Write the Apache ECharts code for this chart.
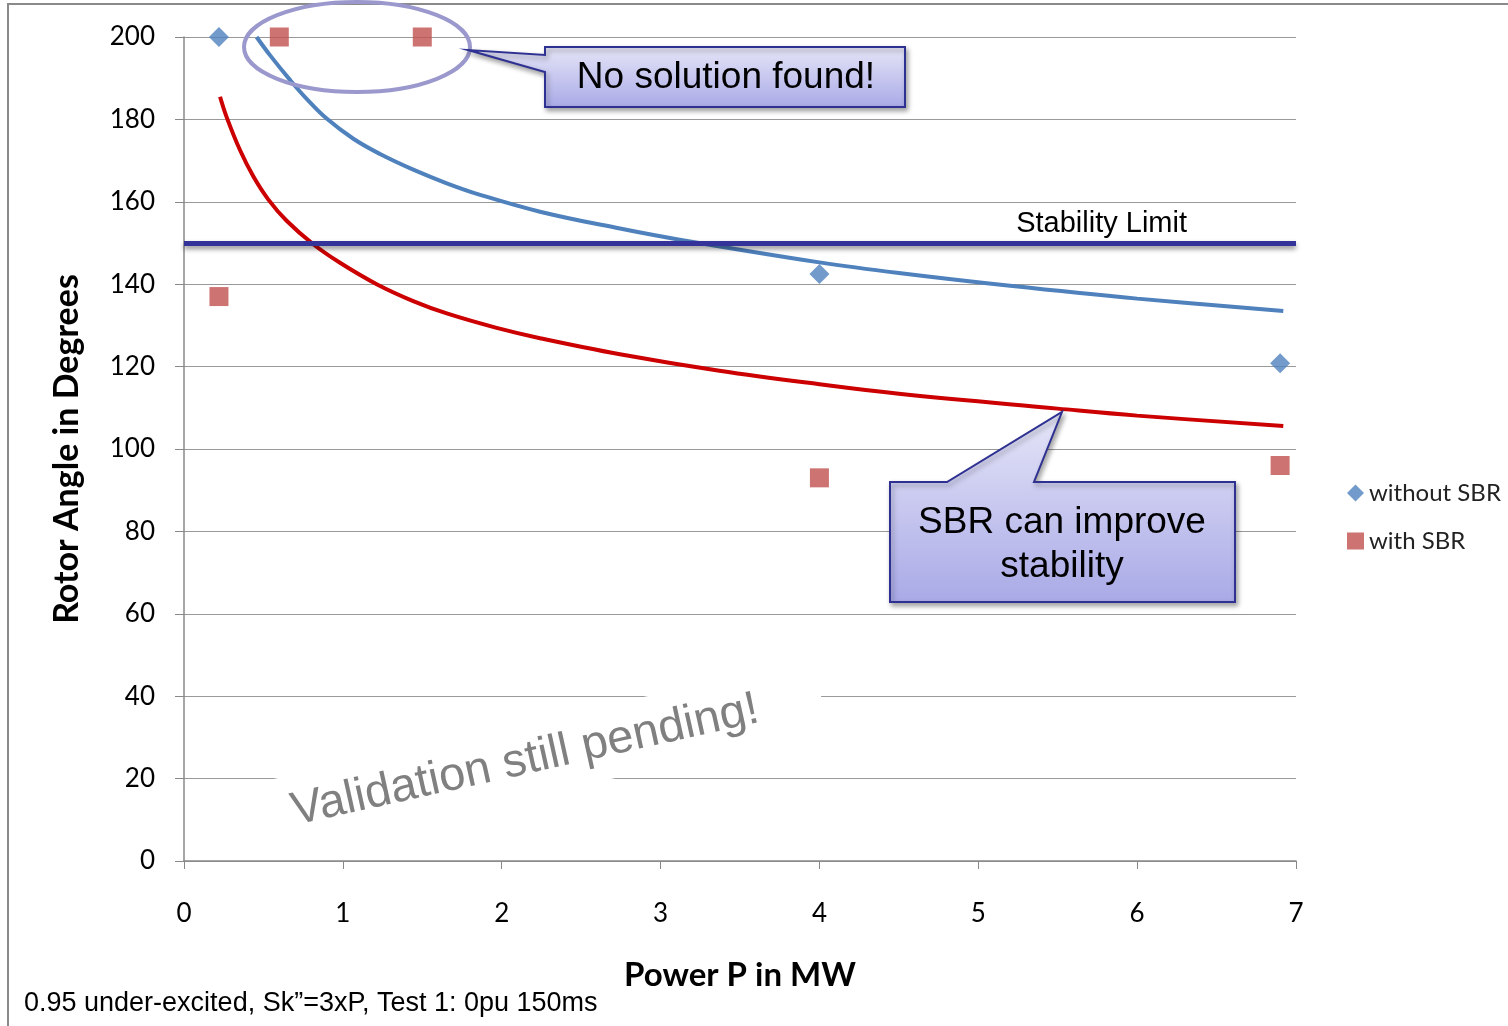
<!DOCTYPE html>
<html>
<head>
<meta charset="utf-8">
<title>Rotor Angle vs Power</title>
<script src="https://cdn.jsdelivr.net/npm/echarts@6/dist/echarts.min.js"></script>
<style>
  html, body { margin: 0; padding: 0; background: #fff; }
  #chart { width: 1508px; height: 1026px; }
</style>
</head>
<body>
<div id="chart"></div>
<script>
// simulated points [P in MW, rotor angle in degrees]
const withoutSBR = [[0.22, 200], [4.0, 142.5], [6.9, 120.8]];
const withSBR = [[0.22, 137], [0.6, 200], [1.5, 200], [4.0, 93], [6.9, 96]];

// trend lines
const withoutSBRTrend = [
  [0.457, 200], [0.541, 195.6], [0.667, 189.6], [0.772, 185.0], [0.898, 180.2],
  [1.066, 175.3], [1.234, 171.6], [1.443, 167.8], [1.654, 164.5], [1.864, 161.7],
  [2.241, 157.6], [2.744, 153.5], [3.12, 150.8], [4.0, 145.3], [4.5, 142.7],
  [5.2, 139.6], [6.0, 136.5], [6.92, 133.5]
];
const withSBRTrend = [
  [0.227, 185.5], [0.269, 180.5], [0.353, 172.5], [0.436, 166.2], [0.53, 160.6],
  [0.646, 155.4], [0.814, 149.7], [0.982, 145.2], [1.213, 140.0], [1.443, 135.9],
  [1.654, 132.9], [1.968, 129.4], [2.241, 126.9], [2.744, 123.0], [3.37, 119.0],
  [4.0, 115.7], [4.5, 113.4], [5.5, 109.8], [6.0, 108.1], [6.92, 105.6]
];

const stabilityLimit = 150;
const seriesNames = ["without SBR", "with SBR"];

const chart = echarts.init(document.getElementById("chart"));

function calloutGradient() {
  return new echarts.graphic.LinearGradient(0, 0, 0, 1, [
    { offset: 0, color: "#e6e6f8" },
    { offset: 1, color: "#a9a9e7" },
  ]);
}

const calloutStyle = {
  stroke: "#2e3192",
  lineWidth: 2,
  shadowColor: "rgba(0,0,0,0.35)",
  shadowBlur: 5,
  shadowOffsetX: 2,
  shadowOffsetY: 3,
};

chart.setOption({
  animation: false,
  backgroundColor: "#fff",
  grid: { left: 184, right: 212, top: 37, bottom: 165 },
  legend: {
    orient: "vertical",
    left: 1342,
    top: 476,
    itemGap: 24,
    itemWidth: 17,
    itemHeight: 17,
    data: seriesNames,
    textStyle: { fontFamily: "Lato", fontSize: 24, color: "#222" },
  },
  xAxis: {
    type: "value",
    min: 0,
    max: 7,
    interval: 1,
    z: 8,
    name: "Power P in MW",
    nameLocation: "middle",
    nameGap: 98,
    nameTextStyle: { fontFamily: "Lato", fontWeight: "bold", fontSize: 33, color: "#000" },
    axisLine: { show: true, lineStyle: { color: "#888", width: 1.5 } },
    axisTick: { show: true, length: 8, lineStyle: { color: "#888" } },
    axisLabel: { margin: 40, fontFamily: "Lato", fontSize: 26, color: "#000" },
    splitLine: { show: false },
  },
  yAxis: {
    type: "value",
    min: 0,
    max: 200,
    interval: 20,
    name: "Rotor Angle in Degrees",
    nameLocation: "middle",
    nameGap: 100,
    nameRotate: 90,
    nameTextStyle: { fontFamily: "Lato", fontWeight: "bold", fontSize: 34, color: "#000" },
    axisLine: { show: true, lineStyle: { color: "#888", width: 1.5 } },
    axisTick: { show: true, length: 9, lineStyle: { color: "#888" } },
    axisLabel: { margin: 29, fontFamily: "Lato", fontSize: 26, color: "#000" },
    splitLine: { show: true, lineStyle: { color: "#999", width: 1.2 } },
  },
  series: [
    {
      name: "without SBR trend",
      type: "line",
      data: withoutSBRTrend,
      smooth: 0.4,
      showSymbol: false,
      lineStyle: { color: "#4f81bd", width: 4 },
      z: 2,
    },
    {
      name: "with SBR trend",
      type: "line",
      data: withSBRTrend,
      smooth: 0.4,
      showSymbol: false,
      lineStyle: { color: "#cc0000", width: 4 },
      z: 2,
      markLine: {
        silent: true,
        symbol: "none",
        lineStyle: {
          color: "#333399",
          width: 5,
          type: "solid",
          shadowColor: "rgba(0,0,0,0.45)",
          shadowBlur: 5,
          shadowOffsetY: 3,
        },
        label: {
          position: "insideEndTop",
          formatter: "Stability Limit",
          fontFamily: "Liberation Sans",
          fontSize: 29,
          color: "#000",
          padding: [0, 104, 0, 0],
        },
        data: [{ yAxis: stabilityLimit }],
      },
    },
    {
      name: seriesNames[0],
      type: "scatter",
      data: withoutSBR,
      symbol: "diamond",
      symbolSize: 20,
      itemStyle: { color: "#4f81bd" },
      z: 3,
    },
    {
      name: seriesNames[1],
      type: "scatter",
      data: withSBR,
      symbol: "rect",
      symbolSize: 19,
      itemStyle: { color: "#c0504d" },
      z: 3,
    },
  ],
  graphic: [
    // outer frame
    {
      type: "polyline",
      shape: { points: [[8, 1030], [8, 4], [1510, 4]] },
      style: { stroke: "#8a8a8a", lineWidth: 2, fill: null },
      z: 1,
    },
    // note about the unverified results
    {
      type: "text",
      x: 537,
      y: 758,
      rotation: (12.5 * Math.PI) / 180,
      style: {
        text: "Validation still pending!",
        fontFamily: "Liberation Sans",
        fontSize: 47,
        fill: "#808080",
        align: "center",
        verticalAlign: "middle",
        backgroundColor: "#fff",
        padding: [16, 64, 10, 40],
      },
      z: 5,
    },
    // ellipse around missing solutions
    {
      type: "ellipse",
      shape: { cx: 357, cy: 47, rx: 113, ry: 45 },
      style: { stroke: "#9a98cc", lineWidth: 4, fill: null },
      z: 20,
    },
    // callout: No solution found!
    {
      type: "polygon",
      shape: {
        points: [[545, 47], [905, 47], [905, 107], [545, 107], [545, 72], [468, 50], [545, 55]],
      },
      style: Object.assign({ fill: calloutGradient() }, calloutStyle),
      z: 20,
    },
    {
      type: "text",
      x: 726,
      y: 78,
      style: {
        text: "No solution found!",
        fontFamily: "Liberation Sans",
        fontSize: 37,
        fill: "#000",
        align: "center",
        verticalAlign: "middle",
      },
      z: 21,
    },
    // callout: SBR can improve stability
    {
      type: "polygon",
      shape: {
        points: [[890, 482], [947, 482], [1062, 412], [1034, 482], [1235, 482], [1235, 602], [890, 602]],
      },
      style: Object.assign({ fill: calloutGradient() }, calloutStyle),
      z: 20,
    },
    {
      type: "text",
      x: 1062,
      y: 545,
      style: {
        text: "SBR can improve\nstability",
        fontFamily: "Liberation Sans",
        fontSize: 37,
        lineHeight: 44,
        fill: "#000",
        align: "center",
        verticalAlign: "middle",
      },
      z: 21,
    },
    // footnote
    {
      type: "text",
      x: 24,
      y: 1004,
      style: {
        text: "0.95 under-excited, Sk\u201D=3xP, Test 1: 0pu 150ms",
        fontFamily: "Liberation Sans",
        fontSize: 27,
        fill: "#000",
        align: "left",
        verticalAlign: "middle",
      },
      z: 10,
    },
  ],
});
</script>
</body>
</html>
